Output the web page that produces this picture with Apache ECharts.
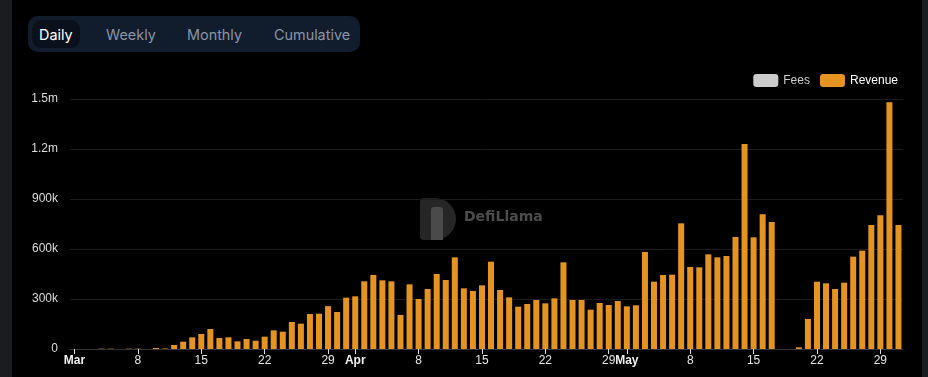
<!DOCTYPE html>
<html>
<head>
<meta charset="utf-8">
<script src="https://cdn.jsdelivr.net/npm/echarts@6/dist/echarts.min.js"></script>
<style>
  html,body{margin:0;padding:0;background:#000;width:928px;height:377px;overflow:hidden;}
  #wrap{position:absolute;left:0;top:0;width:928px;height:377px;background:#000;}
  .strip{position:absolute;top:0;height:377px;background:#1b1c20;}
  #chart{position:absolute;left:0;top:0;width:928px;height:377px;}
  #tabs{position:absolute;left:28px;top:16px;width:332px;height:36px;background:#111c2d;border-radius:10px;
        font-family:Inter,"Noto Sans",sans-serif;font-size:14.4px;z-index:2;}
  .tab{position:absolute;top:4px;height:28px;line-height:29px;color:#8b95a6;}
  .tab.sel{background:#0a111d;color:#fff;border-radius:9px;padding:0 7px;left:4px;}
</style>
</head>
<body>
<div id="wrap">
  <div class="strip" style="left:0;width:12px;"></div>
  <div class="strip" style="left:922px;width:6px;"></div>
  <div id="chart"></div>
  <div id="tabs">
    <div class="tab sel">Daily</div>
    <div class="tab" style="left:78px;">Weekly</div>
    <div class="tab" style="left:159px;">Monthly</div>
    <div class="tab" style="left:246px;">Cumulative</div>
  </div>
</div>
<script>
const startDate = [2024, 2, 1]; // Mar 1
const dayCount = 92;
const monthNames = ['Jan','Feb','Mar','Apr','May','Jun','Jul','Aug','Sep','Oct','Nov','Dec'];
const labelDays = [1, 8, 15, 22, 29];
const yTicks = ['0', '300k', '600k', '900k', '1.2m', '1.5m'];

const revenueMar = [0,0,0,2000,2000,0,2000,2000,0,6000,3000,24000,44000,70000,90000,120000,66000,70000,46000,60000,50000,74000,112000,104000,162000,152000,210000,212000,257000,222000,308000];
const revenueApr = [316000,406000,444000,412000,406000,204000,388000,300000,360000,450000,414000,550000,364000,348000,382000,524000,354000,310000,254000,270000,294000,274000,304000,520000,294000,294000,236000,276000,264000,288000];
const revenueMay = [256000,262000,582000,404000,444000,446000,754000,492000,490000,568000,550000,558000,672000,1230000,670000,808000,762000,0,0,10000,180000,404000,394000,360000,398000,554000,590000,744000,802000,1480000,744000];
const revenue = revenueMar.concat(revenueApr, revenueMay);
const fees = [];

const dates = [];
for (let i = 0; i < dayCount; i++) {
  const d = new Date(startDate[0], startDate[1], startDate[2] + i);
  dates.push(d);
}
const categories = dates.map(d => monthNames[d.getMonth()] + ' ' + d.getDate());

const showIdx = (i) => labelDays.indexOf(dates[i].getDate()) >= 0;

const chart = echarts.init(document.getElementById('chart'));
chart.setOption({
  backgroundColor: 'transparent',
  animation: false,
  textStyle: { fontFamily: '"Liberation Sans", Arial, sans-serif' },
  legend: {
    data: ['Fees', 'Revenue'],
    selected: { Fees: false, Revenue: true },
    right: 25, top: 69,
    icon: 'roundRect', itemWidth: 25, itemHeight: 13, itemGap: 10,
    textStyle: { color: '#ffffff', fontSize: 12 },
    inactiveColor: '#cccccc'
  },
  grid: { left: 70, right: 25, top: 99, bottom: 28 },
  xAxis: {
    type: 'category',
    data: categories,
    boundaryGap: true,
    axisLine: { show: true, lineStyle: { color: '#333' } },
    axisTick: { show: true, alignWithLabel: true, interval: (i) => showIdx(i), length: 5, lineStyle: { color: '#ddd' } },
    axisLabel: {
      interval: (i) => showIdx(i),
      color: '#e6e6e6', fontSize: 12, margin: 6,
      formatter: (v, i) => {
        const d = dates[i];
        return d.getDate() === 1 ? '{m|' + monthNames[d.getMonth()] + '}' : String(d.getDate());
      },
      rich: { m: { fontWeight: 'bold', fontSize: 12, color: '#f0f0f0' } }
    },
    splitLine: { show: false }
  },
  yAxis: {
    type: 'value', min: 0, max: 1500000, interval: 300000,
    axisLine: { show: false }, axisTick: { show: false },
    axisLabel: {
      color: '#dcdcdc', fontSize: 12, margin: 12,
      formatter: (v) => yTicks[Math.round(v / 300000)]
    },
    splitLine: { lineStyle: { color: '#1c1c1c', width: 1 } }
  },
  graphic: [
    {
      type: 'group', left: 420, top: 198, silent: true,
      children: [
        { type: 'rect', shape: { x: 0, y: 0, width: 36, height: 42, r: [4, 21, 21, 4] }, style: { fill: '#262626' } },
        { type: 'rect', shape: { x: 11, y: 9, width: 12, height: 33, r: [3, 3, 0, 0] }, style: { fill: '#4a4a4a' } },
        { type: 'text', left: 44, top: 12, style: { text: 'DefiLlama', fill: '#4c4c4c', font: 'bold 14px "DejaVu Sans", sans-serif' } }
      ]
    }
  ],
  series: [
    { name: 'Fees', type: 'bar', data: fees, itemStyle: { color: '#cccccc' }, barWidth: 6 },
    { name: 'Revenue', type: 'bar', data: revenue, itemStyle: { color: '#E59421' }, barWidth: 6, barGap: '-100%' }
  ]
});
</script>
</body>
</html>
